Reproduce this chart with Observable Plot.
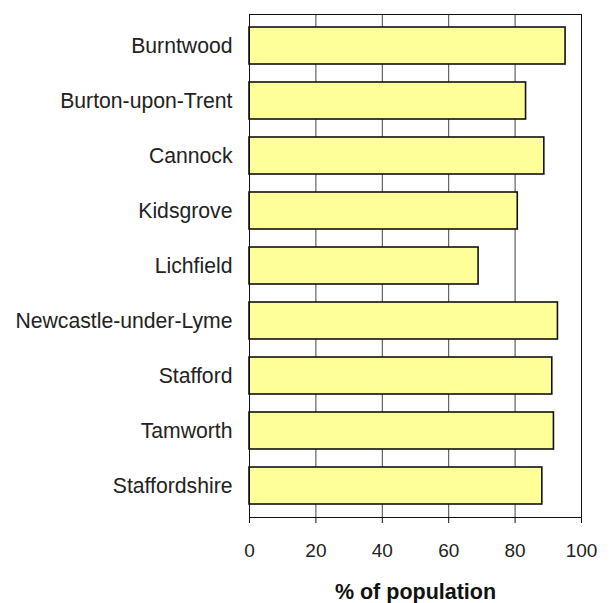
<!DOCTYPE html>
<html>
<head>
<meta charset="utf-8">
<script src="https://cdn.jsdelivr.net/npm/d3@7"></script>
<script src="https://cdn.jsdelivr.net/npm/@observablehq/plot@0.6"></script>
<style>
  html, body { margin: 0; padding: 0; background: #fff; }
  #chart svg { font-family: "Liberation Sans", Arial, sans-serif; }
</style>
</head>
<body>
<div id="chart"></div>
<script>
const categories = ["Burntwood", "Burton-upon-Trent", "Cannock", "Kidsgrove", "Lichfield",
  "Newcastle-under-Lyme", "Stafford", "Tamworth", "Staffordshire"];
const values = [95.2, 83.3, 88.8, 80.8, 69.0, 92.9, 91.2, 91.7, 88.2];
const xTicks = [0, 20, 40, 60, 80, 100];
const gridValues = [20, 40, 60, 80];
const axisTitle = "% of population";

const data = categories.map((name, i) => ({name, value: values[i]}));

const chart = Plot.plot({
  width: 611,
  height: 603,
  marginLeft: 249,
  marginRight: 30,
  marginTop: 14,
  marginBottom: 86,
  style: {background: "#fff", color: "#222", fontFamily: "Liberation Sans, Arial, sans-serif"},
  x: {domain: [0, 100]},
  y: {domain: categories, paddingInner: 0.33, paddingOuter: 0.165},
  marks: [
    Plot.ruleX(gridValues, {stroke: "#444", strokeWidth: 1}),
    Plot.barX(data, {x: "value", y: "name", fill: "#FFFF99", stroke: "#111", strokeWidth: 1.6}),
    Plot.frame({stroke: "#111", strokeWidth: 1}),
    Plot.axisX({ticks: xTicks, tickSize: 6, tickPadding: 20, fontSize: 19, label: null, stroke: "#111", tickFormat: d => String(d)}),
    Plot.axisY({tickSize: 0, tickPadding: 17, fontSize: 21.2, label: null}),
    Plot.text([axisTitle], {frameAnchor: "bottom", dy: 81, text: d => d, fontSize: 21.5, fontWeight: "bold", fill: "#111"})
  ]
});
document.getElementById("chart").appendChild(chart);
</script>
</body>
</html>
